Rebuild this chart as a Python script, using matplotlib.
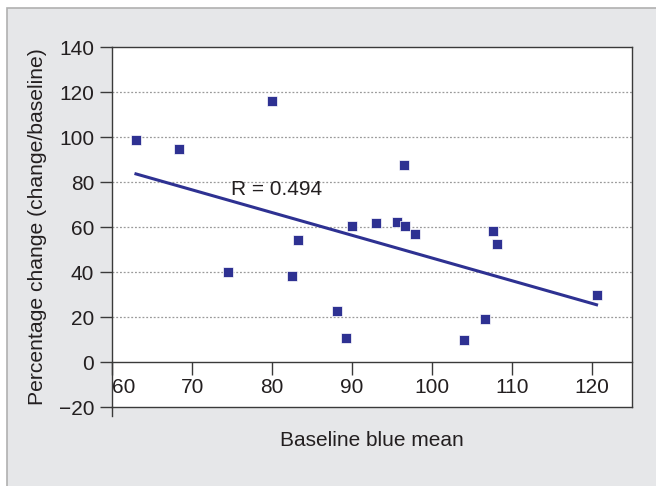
import numpy as np
import matplotlib
matplotlib.use("Agg")
import matplotlib.pyplot as plt
from matplotlib.patches import Rectangle

plt.rcParams['font.family'] = ['Liberation Sans', 'DejaVu Sans']

baseline = [62.96, 68.3, 80.0, 74.5, 83.3, 82.5, 88.1, 89.3, 90.0, 93.05,
            95.6, 96.6, 96.45, 97.9, 107.6, 108.1, 104.0, 106.6, 120.6]
pct_change = [98.9, 94.7, 116.3, 40.1, 54.4, 38.5, 22.9, 10.7, 60.7, 62.0,
              62.5, 60.4, 87.8, 56.9, 58.4, 52.6, 10.0, 19.2, 29.8]
xticks = [60, 70, 80, 90, 100, 110, 120]
yticks = [-20, 0, 20, 40, 60, 80, 100, 120, 140]
r_label = "R = 0.494"

blue = '#2e3192'
txt = '#231f20'

fig = plt.figure(figsize=(6.56, 4.86), dpi=100)
fig.patch.set_facecolor('white')
fig.patches.append(Rectangle((7/656, -0.1), 1.2, 1 - 8/486 + 0.1, transform=fig.transFigure,
                             facecolor='#e6e7e9', edgecolor='#b0b0b0', lw=1.2, zorder=-10))

ax = fig.add_axes([112.3/656, 1 - 407.3/486, (631.7 - 112.3)/656, (407.3 - 47.3)/486])
ax.set_facecolor('white')
ax.set_xlim(60, 125)
ax.set_ylim(-20, 140)

x = np.array(baseline)
y = np.array(pct_change)
m, b = np.polyfit(x, y, 1)
xl = np.array([x.min(), x.max()])
ax.plot(xl, m * xl + b, color=blue, lw=2.2, zorder=3)
ax.scatter(x, y, marker='s', s=42, color=blue, edgecolors='white', linewidths=0.5, zorder=4)

for v in [20, 40, 60, 80, 100, 120]:
    ax.axhline(v, color='#9a9a9a', lw=0.9, ls=(0, (1.5, 1.5)), zorder=1)

for s in ['top', 'right', 'left']:
    ax.spines[s].set_color('#3a3a3a')
    ax.spines[s].set_linewidth(1.0)
ax.spines['bottom'].set_position(('data', 0))
ax.spines['bottom'].set_color('#3a3a3a')
ax.spines['bottom'].set_linewidth(1.0)
ax.axhline(-20, color='#3a3a3a', lw=1.0, clip_on=False, zorder=5)
ax.plot([60, 60], [-20, -24], color='#3a3a3a', lw=1.0, clip_on=False)

ax.set_xticks(xticks)
ax.set_xticklabels([str(t) for t in xticks])
ax.set_yticks(yticks)
ax.set_yticklabels([str(t).replace('-', '\u2212') for t in yticks])
ax.tick_params(axis='both', direction='out', length=9, width=1.0, color='#3a3a3a',
               labelsize=15, labelcolor=txt)
ax.tick_params(axis='x', pad=2)
ax.tick_params(axis='y', pad=4)
lbl0 = ax.get_xticklabels()[0]
lbl0.set_horizontalalignment('left')
lbl0.set_x(60.3)

ax.text(74.8, 76.6, r_label, fontsize=15, color=txt, va='center', ha='left', zorder=6)

fig.text(372/656, 1 - 440/486, 'Baseline blue mean', fontsize=15, color=txt, ha='center', va='center')
fig.text(38/656, 1 - 227/486, 'Percentage change (change/baseline)', fontsize=15.2, color=txt,
         ha='center', va='center', rotation=90)

fig.savefig('out.png', dpi=100, facecolor=fig.get_facecolor())
